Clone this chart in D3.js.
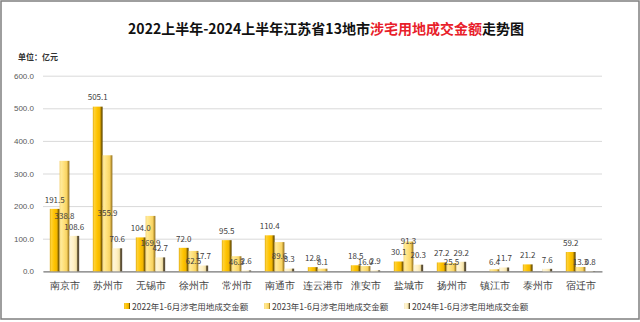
<!DOCTYPE html>
<html><head><meta charset="utf-8">
<script src="https://cdn.jsdelivr.net/npm/d3@7"></script>
<style>
html,body{margin:0;padding:0;background:#fff;}
svg{display:block;font-family:"Microsoft YaHei","Noto Sans CJK SC","Noto Sans",sans-serif;}
</style></head>
<body>
<svg id="chart" width="640" height="322"></svg>
<script>
const cities = ["南京市","苏州市","无锡市","徐州市","常州市","南通市","连云港市","淮安市","盐城市","扬州市","镇江市","泰州市","宿迁市"];
const seriesNames = ["2022年1-6月涉宅用地成交金额","2023年1-6月涉宅用地成交金额","2024年1-6月涉宅用地成交金额"];
const v2022 = [191.5,505.1,104.0,72.0,95.5,110.4,12.8,18.5,30.1,27.2,null,21.2,59.2];
const v2023 = [338.8,355.9,169.9,62.5,46.3,89.6,8.1,16.0,91.3,25.5,6.4,null,13.3];
const v2024 = [108.6,70.6,42.7,17.7,2.6,8.3,null,2.9,20.3,29.2,11.7,7.6,0.8];
const yTicks = [0,100,200,300,400,500,600];

const svg = d3.select("#chart");
const W = 640, H = 322;
const m = {left:43, right:38, top:75.7, bottom:50.7};

// frame
svg.append("rect").attr("x",1).attr("y",1).attr("width",W-2).attr("height",H-4)
  .attr("fill","#fff").attr("stroke","#7f7f7f").attr("stroke-width",1.5);

// gradients
const defs = svg.append("defs");
function grad(id, stops){
  const g = defs.append("linearGradient").attr("id",id).attr("x1","0%").attr("x2","100%").attr("y1","0%").attr("y2","0%");
  stops.forEach(s=>g.append("stop").attr("offset",s[0]).attr("stop-color",s[1]));
}
grad("g0",[["0%","#d9a200"],["12%","#ffd23a"],["45%","#ffc400"],["75%","#f0b400"],["82%","#9a7400"],["100%","#5e4600"]]);
grad("g1",[["0%","#f2c85a"],["12%","#ffeb9c"],["45%","#ffe07a"],["75%","#f7d260"],["84%","#c9a23c"],["100%","#8d6e22"]]);
grad("g2",[["0%","#e8d9a4"],["12%","#fff6d8"],["45%","#fff0c4"],["72%","#f3e2a8"],["80%","#7a6a44"],["100%","#4a4030"]]);
const fills = ["url(#g0)","url(#g1)","url(#g2)"];

const x0 = d3.scaleBand().domain(cities).range([m.left, W-m.right]).padding(0);
const x1 = d3.scaleBand().domain([0,1,2]).range([0, x0.bandwidth()]).paddingInner(0).paddingOuter(0.7);
const y = d3.scaleLinear().domain([0,600]).range([H-m.bottom, m.top]);

// grid
const yAxis = d3.axisLeft(y).tickValues(yTicks).tickSize(-(W-m.left-m.right)).tickFormat(d3.format(".1f")).tickPadding(9);
const gy = svg.append("g").attr("transform",`translate(${m.left},0)`).call(yAxis);
gy.select(".domain").remove();
gy.selectAll(".tick line").attr("stroke","#d9d9d9").attr("stroke-width",1);
gy.selectAll(".tick text").attr("fill","#595959").attr("font-size",8).attr("x",-9);

// x axis
const xAxis = d3.axisBottom(x0).tickSize(0).tickPadding(9);
const gx = svg.append("g").attr("transform",`translate(0,${y(0)})`).call(xAxis);
gx.select(".domain").attr("stroke","#7f7f7f").attr("stroke-width",1.2);
gx.selectAll(".tick text").attr("fill","#404040").attr("font-size",9.5).attr("dy","0.95em");

const data = [v2022, v2023, v2024];
const groups = svg.append("g");
data.forEach((arr, si) => {
  groups.selectAll(".b"+si).data(cities.map((c,i)=>({c, v:arr[i]})).filter(d=>d.v!=null))
    .enter().append("rect")
    .attr("x", d=>x0(d.c)+x1(si))
    .attr("width", x1.bandwidth())
    .attr("y", d=>y(d.v))
    .attr("height", d=>y(0)-y(d.v))
    .attr("fill", fills[si]);
});

// labels
const base = y(0);
function outsideY(v){ return y(v) - 9; }
const labels = svg.append("g").attr("font-size",8).attr("fill","#404040").attr("text-anchor","middle");
cities.forEach((c,i)=>{
  [0,2].forEach(si=>{
    const v = data[si][i];
    if(v==null) return;
    labels.append("text").attr("x", x0(c)+x1(si)+x1.bandwidth()/2).attr("y", outsideY(v)).attr("dy","0.35em").text(v.toFixed(1));
  });
  const v = v2023[i];
  if(v!=null){
    let ly = Math.min((y(v)+base)/2, base-9);
    const n = v2022[i];
    if(n!=null && Math.abs(outsideY(n)-ly) < 5) ly = Math.min(y(v), base-9);
    labels.append("text").attr("x", x0(c)+x1(1)+x1.bandwidth()/2).attr("y", ly).attr("dy","0.35em").text(v.toFixed(1));
  }
});

// title
const t = svg.append("text").attr("x",326).attr("y",34).attr("text-anchor","middle")
  .attr("font-size",14).attr("font-weight","bold").attr("fill","#111");
t.append("tspan").text("2022上半年-2024上半年江苏省13地市");
t.append("tspan").attr("fill","#e8202a").text("涉宅用地成交金额");
t.append("tspan").text("走势图");

svg.append("text").attr("x",18).attr("y",57).attr("dy","0.35em").attr("font-size",8).attr("font-weight","bold").attr("fill","#333").text("单位：亿元");

// legend
const legX = [124,264,404];
const lg = svg.append("g");
seriesNames.forEach((s,i)=>{
  lg.append("rect").attr("x",legX[i]).attr("y",303).attr("width",6).attr("height",6).attr("fill",fills[i]);
  lg.append("text").attr("x",legX[i]+8).attr("y",307).attr("dy","0.35em").attr("font-size",8.5).attr("fill","#404040").text(s);
});
</script>
</body></html>
